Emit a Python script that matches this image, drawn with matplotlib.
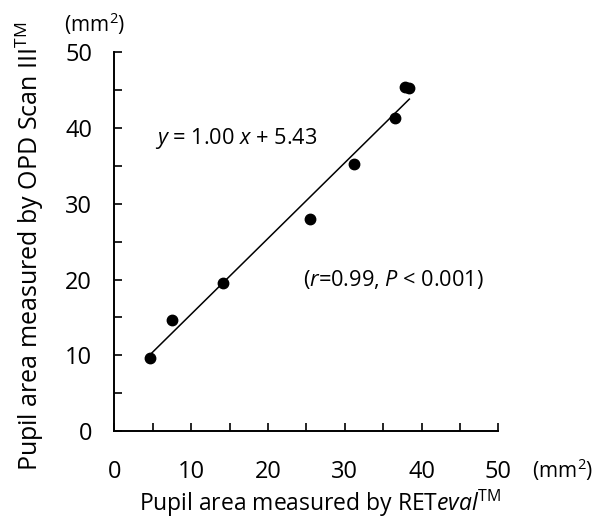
import matplotlib
matplotlib.use("Agg")
import matplotlib.pyplot as plt
import numpy as np

# valeurs
retEval = [4.6, 7.5, 14.1, 25.5, 31.2, 36.5, 37.8, 38.4]
opdScan = [9.6, 14.6, 19.6, 28.0, 35.3, 41.3, 45.4, 45.3]
pente, origine = 1.00, 5.43
xTicks = [0, 10, 20, 30, 40, 50]
yTicks = [0, 10, 20, 30, 40, 50]

plt.rcParams['font.family'] = ['Open Sans', 'DejaVu Sans']
plt.rcParams['mathtext.fontset'] = 'custom'
plt.rcParams['mathtext.rm'] = 'Open Sans'
plt.rcParams['mathtext.it'] = 'Open Sans:italic'

fig = plt.figure(figsize=(6.02, 5.19), dpi=100)
ax = fig.add_axes([0.19, 0.1696, 0.638, 0.7295])

ax.plot(retEval, opdScan, 'o', color='black', markersize=7.5)
xl = np.array([min(retEval), max(retEval)])
ax.plot(xl, pente*xl+origine, color='black', lw=1.1)

ax.set_xlim(0, 50)
ax.set_ylim(0, 50)
for s in ['top', 'right']:
    ax.spines[s].set_visible(False)
for s in ['left', 'bottom']:
    ax.spines[s].set_linewidth(1.4)

ax.set_xticks(xTicks)
ax.set_yticks(yTicks)
ax.set_xticks(np.arange(5, 51, 10), minor=True)
ax.set_yticks(np.arange(5, 51, 10), minor=True)
ax.tick_params(which='both', direction='in', length=6, width=1.2, labelsize=17)
ax.tick_params(axis='x', which='major', pad=21)
ax.tick_params(axis='y', which='major', pad=16)

ax.set_xlabel(r"Pupil area measured by RET$\it{eval}$$^{\mathrm{TM}}$", fontsize=16.5, va='center')
ax.xaxis.set_label_coords(0.536, -0.192)
ax.set_ylabel(r"Pupil area measured by OPD Scan III$^{\mathrm{TM}}$", fontsize=18, va='center')
ax.yaxis.set_label_coords(-0.219, 0.489)

ax.text(5.3, 38.6, r"$\it{y}$ = 1.00 $\it{x}$ + 5.43", fontsize=15.7, va='center')
ax.text(24.6, 20.0, r"($\it{r}$=0.99, $\it{P}$ < 0.001)", fontsize=15.7, va='center')
ax.text(-2.6, 53.75, r"(mm$^{2}$)", fontsize=15, ha='center', va='center', clip_on=False)
ax.text(58.3, -5.1, r"(mm$^{2}$)", fontsize=15, ha='center', va='center', clip_on=False)

fig.savefig('out.png', dpi=100)
